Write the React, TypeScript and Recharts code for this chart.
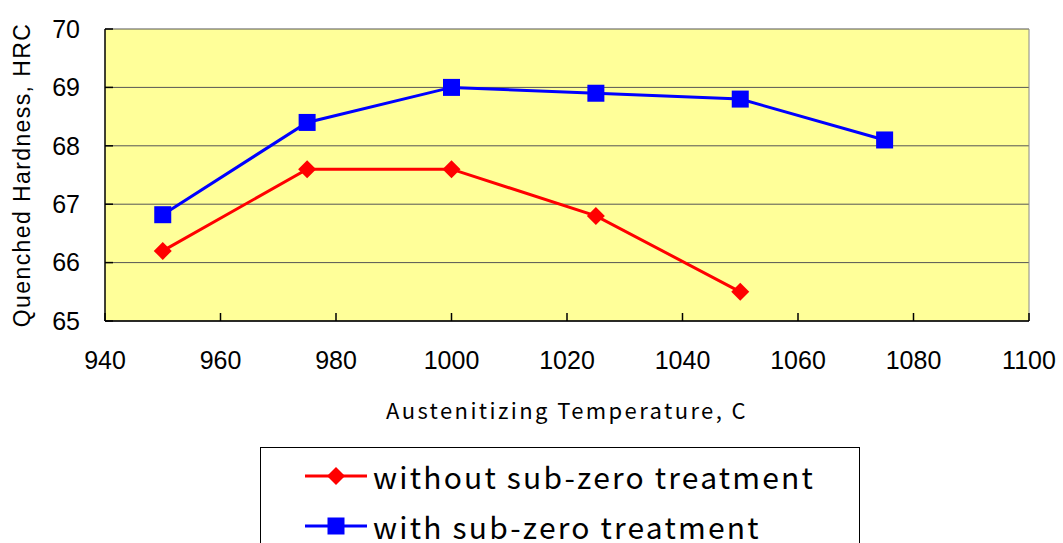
import React from 'react';
import {
  LineChart, Line, XAxis, YAxis, CartesianGrid, ReferenceLine,
} from 'recharts';

const temperatures = [950, 975, 1000, 1025, 1050, 1075];
const withoutSubZero = [66.2, 67.6, 67.6, 66.8, 65.5, null];
const withSubZero = [66.82, 68.4, 69.0, 68.9, 68.8, 68.1];
const xTicks = [940, 960, 980, 1000, 1020, 1040, 1060, 1080, 1100];
const yTicks = [65, 66, 67, 68, 69, 70];
const seriesNames = ['without sub-zero treatment', 'with sub-zero treatment'];

const data = temperatures.map((t, i) => ({
  temp: t,
  without: withoutSubZero[i],
  with: withSubZero[i],
}));

const RED = '#FF0000';
const BLUE = '#0000FF';

const Diamond = (props: any) => {
  const { cx, cy, fill } = props;
  if (cx == null || cy == null || props.value == null) return <g />;
  const r = 9;
  return (
    <polygon
      points={`${cx},${cy - r} ${cx + r},${cy} ${cx},${cy + r} ${cx - r},${cy}`}
      fill={fill}
    />
  );
};

const Square = (props: any) => {
  const { cx, cy, fill } = props;
  if (cx == null || cy == null) return <g />;
  const s = 17;
  return <rect x={cx - s / 2} y={cy - s / 2} width={s} height={s} fill={fill} />;
};

const legendFont = '"Noto Sans CJK JP", "Noto Sans", sans-serif';
const tickFont = '"Liberation Sans", Arial, sans-serif';

const LegendBox = () => (
  <div
    style={{
      position: 'absolute',
      left: 260,
      top: 447,
      width: 600,
      height: 130,
      border: '1px solid #000',
      background: '#fff',
      boxSizing: 'border-box',
    }}
  >
    {seriesNames.map((name, i) => (
      <div
        key={name}
        style={{
          position: 'absolute',
          left: 44,
          top: 10 + i * 50,
          height: 36,
          display: 'flex',
          alignItems: 'center',
          fontFamily: legendFont,
          fontSize: 30,
          letterSpacing: 2.2,
          color: '#000',
          whiteSpace: 'nowrap',
        }}
      >
        <svg width={62} height={36} style={{ marginRight: 6 }}>
          <line x1={0} y1={18} x2={62} y2={18} stroke={i === 0 ? RED : BLUE} strokeWidth={3} />
          {i === 0 ? (
            <polygon points="31,9 40,18 31,27 22,18" fill={RED} />
          ) : (
            <rect x={22.5} y={9.5} width={17} height={17} fill={BLUE} />
          )}
        </svg>
        <span>{name}</span>
      </div>
    ))}
  </div>
);

export default function App() {
  return (
    <div style={{ position: 'absolute', left: 0, top: 0, width: 1063, height: 543, background: '#fff', overflow: 'hidden' }}>
      <LineChart
        width={1063}
        height={543}
        data={data}
        margin={{ top: 29, right: 34, left: 0, bottom: 122 }}
      >
        <CartesianGrid
          vertical={false}
          fill="#FFFF99"
          fillOpacity={1}
          stroke="#555555"
          strokeWidth={1}
        />
        <ReferenceLine x={1100} stroke="#888888" strokeWidth={1} />
        <XAxis
          dataKey="temp"
          type="number"
          domain={[940, 1100]}
          ticks={xTicks}
          allowDataOverflow
          stroke="#000"
          strokeWidth={1.5}
          tickSize={-8}
          tickMargin={38}
          tick={{ fill: '#000', fontSize: 25, fontFamily: tickFont }}
          height={100}
          label={{
            value: 'Austenitizing Temperature, C',
            position: 'insideBottom',
            offset: 2,
            style: { fill: '#000', fontSize: 22, letterSpacing: 2.4, fontFamily: legendFont },
          }}
        />
        <YAxis
          type="number"
          domain={[65, 70]}
          ticks={yTicks}
          allowDataOverflow
          width={105}
          stroke="#000"
          strokeWidth={1.5}
          tickSize={-8}
          tickMargin={33}
          tick={{ fill: '#000', fontSize: 25, fontFamily: tickFont }}
          label={{
            value: 'Quenched Hardness, HRC',
            angle: -90,
            position: 'insideLeft',
            offset: 22,
            style: { fill: '#000', fontSize: 23, letterSpacing: 1.4, fontFamily: tickFont, textAnchor: 'middle' },
          }}
        />
        <Line
          dataKey="without"
          name={seriesNames[0]}
          stroke={RED}
          strokeWidth={3}
          fill={RED}
          dot={<Diamond fill={RED} />}
          isAnimationActive={false}
          connectNulls={false}
        />
        <Line
          dataKey="with"
          name={seriesNames[1]}
          stroke={BLUE}
          strokeWidth={3}
          fill={BLUE}
          dot={<Square fill={BLUE} />}
          isAnimationActive={false}
        />
      </LineChart>
      <LegendBox />
    </div>
  );
}
